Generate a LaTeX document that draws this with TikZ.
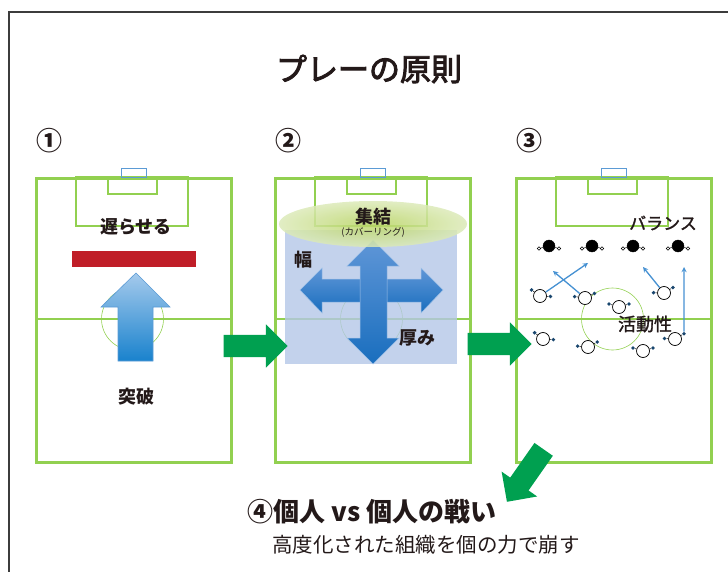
\documentclass[tikz,border=0pt]{standalone}
\usepackage{fontspec}
\setmainfont{Noto Sans CJK JP}
\newfontfamily\headfont[FakeBold=3]{Noto Sans CJK JP}
\newfontfamily\notefont[FakeBold=1.5]{Noto Sans CJK JP}
\usepackage{xcolor}
\usepackage{tikz}
\usetikzlibrary{shapes,arrows,positioning}

\definecolor{pitchgreen}{RGB}{146,208,80}
\definecolor{goalblue}{RGB}{91,155,213}
\definecolor{barred}{RGB}{192,30,40}
\definecolor{flowgreen}{RGB}{0,160,80}
\definecolor{inkdark}{RGB}{35,25,25}
\definecolor{framegray}{RGB}{60,60,60}
\definecolor{zoneblue}{RGB}{180,199,231}
\definecolor{uptop}{RGB}{165,202,236}
\definecolor{upbottom}{RGB}{25,130,205}
\definecolor{crosstop}{RGB}{95,150,215}
\definecolor{crossbottom}{RGB}{25,110,190}
\definecolor{coverin}{RGB}{185,212,100}
\definecolor{coverout}{RGB}{220,234,185}
\definecolor{runblue}{RGB}{70,145,210}
\definecolor{dotblue}{RGB}{25,70,110}

\begin{document}
\begin{tikzpicture}[
    x=1pt, y=-1pt,
    pitchedge/.style={rectangle, draw=pitchgreen, line width=2.6pt, minimum width=195pt, minimum height=284pt, inner sep=0pt, anchor=north west},
    pitchline/.style={draw=pitchgreen, line width=1.2pt},
    goalbox/.style={draw=goalblue, line width=0.8pt},
    tag/.style={font=\fontsize{18pt}{20pt}\selectfont\bfseries, text=inkdark, inner sep=0pt},
    note/.style={font=\fontsize{18pt}{20pt}\selectfont\notefont, text=inkdark, inner sep=0pt},
    flow/.style={single arrow, fill=flowgreen, minimum height=64pt, inner xsep=0pt, inner ysep=11pt, single arrow head extend=10.5pt, single arrow head indent=0pt, single arrow tip angle=90},
    run/.style={->, >=stealth, draw=runblue, line width=1.3pt},
    opp/.style={circle, fill=black, draw=black, minimum size=12pt, inner sep=0pt},
    oppdot/.style={circle, draw=black, fill=white, line width=0.5pt, minimum size=3.6pt, inner sep=0pt},
    mate/.style={circle, fill=white, draw=black, line width=0.7pt, minimum size=13pt, inner sep=0pt},
    matedot/.style={circle, fill=dotblue, minimum size=3.8pt, inner sep=0pt},
]
    \useasboundingbox (0,0) rectangle (728,572);
    % Frame
    \draw[framegray, line width=1.5pt] (9,572) -- (9,12) -- (728,12);

    % Title
    \node[font=\fontsize{31pt}{33pt}\selectfont\headfont, text=inkdark] (title) at (369,69) {プレーの原則};

    % Three pitches
    \foreach \px/\pn/\pc in {35/1/①, 274/2/②, 515/3/③} {
      \begin{scope}[shift={(\px,0)}]
        \node[pitchedge] (field\pn) at (0,177) {};
        \draw[pitchline] (41,177) rectangle (153,226);
        \draw[pitchline] (73,177) rectangle (122,194);
        \draw[goalbox] (86,168) rectangle (111,177);
        \draw[pitchline, line width=1.8pt] (0,319) -- (195,319);
        \draw[pitchline, line width=0.6pt] (97.5,319) circle[radius=31];
        \node[font=\fontsize{26pt}{28pt}\selectfont\bfseries, text=inkdark, inner sep=0pt] (num\pn) at (14,141) {\pc};
      \end{scope}
    }

    % Pitch 1: delay and break through
    \node[tag] (delay) at (136,227) {遅らせる};
    \node[fill=barred, minimum width=124pt, minimum height=16pt, inner sep=0pt] (wall) at (134,259) {};
    \shade[top color=uptop, bottom color=upbottom, draw=goalblue, line width=0.6pt]
      (136,273) -- (170,307) -- (153,307) -- (153,361) -- (118,361) -- (118,307) -- (101,307) -- cycle;
    \node[tag] (breach) at (136,397) {突破};

    % Pitch 2: width, depth and cover
    \fill[zoneblue, opacity=0.8] (285,230) rectangle (457,364);
    \shade[top color=crosstop, bottom color=crossbottom, draw=crosstop!60!white, line width=0.5pt]
      (300,290) -- (322,268) -- (322,279) -- (421,279) -- (421,268) -- (443,290)
      -- (421,313) -- (421,302) -- (322,302) -- (322,313) -- cycle;
    \shade[top color=crosstop, bottom color=crossbottom, draw=crosstop!60!white, line width=0.5pt]
      (373,240) -- (399,266) -- (387,266) -- (387,338) -- (399,338) -- (373,364)
      -- (347,338) -- (360,338) -- (360,266) -- (347,266) -- cycle;
    \shade[inner color=coverin, outer color=coverout, opacity=0.85] (373,224) ellipse [x radius=94, y radius=23];
    \node[tag] (gather) at (373,217) {集結};
    \node[font=\fontsize{9.5pt}{10pt}\selectfont, text=inkdark, inner sep=0pt, below=2pt of gather] (cover) {(カバーリング)};
    \node[tag] (breadth) at (303,260) {幅};
    \node[tag] (depth) at (417,338) {厚み};

    % Pitch 3: balance and mobility
    \node[note, font=\fontsize{17pt}{19pt}\selectfont\notefont] (balance) at (663,223) {バランス};
    \node[note] (mobility) at (645,324) {活動性};

    % Opponents
    \foreach \n/\x in {b1/549, b2/592, b3/633, b4/678} {
      \node[opp] (\n) at (\x,246) {};
      \node[oppdot] (\n-l) at (\x-10,248.5) {};
      \node[oppdot] (\n-r) at (\x+10,248.5) {};
      \draw[line width=0.5pt] (\n-l) -- (\n) -- (\n-r);
    }

    % Team mates
    \foreach \n/\x/\y/\a in {w1/540/296/-19, w2/585/298/9, w3/619/307/0, w4/664/293/15,
                             w5/543/339/-20, w6/588/347/12, w7/643/351/0, w8/675/339/14} {
      \begin{scope}[shift={(\x,\y)}, rotate=\a]
        \node[mate] (\n) at (0,0) {};
        \node[matedot] (\n-l) at (-10,-3) {};
        \node[matedot] (\n-r) at (10,-3) {};
      \end{scope}
      \draw[line width=0.5pt] (\n-l) -- (\n) -- (\n-r);
    }

    % Runs
    \coordinate (t1) at (588,263);
    \coordinate (t2) at (553,271);
    \coordinate (t3) at (643,267);
    \coordinate (t4) at (684,267);
    \draw[run] (w1) -- (t1);
    \draw[run] (w2) -- (t2);
    \draw[run] (w4) -- (t3);
    \draw[run] (w8-r) -- (t4);

    % Flow arrows between stages
    \node[flow] (go12) at (250,346) {};
    \node[flow] (go23) at (494,344) {};
    \node[flow, rotate=-125] (go34) at (528.5,471) {};

    % Stage 4
    \node[font=\fontsize{26pt}{28pt}\selectfont\bfseries, text=inkdark, inner sep=0pt] (duel) at (372,512) {④個人 vs 個人の戦い};
    \node[font=\fontsize{20.5pt}{22pt}\selectfont, text=inkdark, inner sep=0pt, anchor=west] (tagline) at (272,545) {高度化された組織を個の力で崩す};
\end{tikzpicture}
\end{document}
